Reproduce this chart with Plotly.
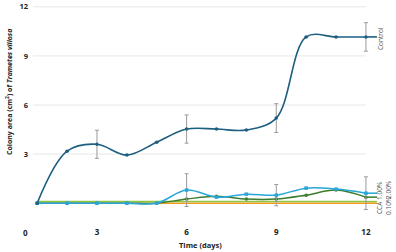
import plotly.graph_objects as go

days = [1, 2, 3, 4, 5, 6, 7, 8, 9, 10, 11, 12]
control = [0.0, 3.18, 3.6, 2.94, 3.73, 4.53, 4.53, 4.47, 5.2, 10.16, 10.16, 10.16]
control_err = [0, 0, 0.86, 0, 0, 0.86, 0, 0, 0.88, 0, 0, 0.87]
pct200 = [0.0, 0.0, 0.0, 0.0, 0.0, 0.8, 0.37, 0.55, 0.49, 0.92, 0.86, 0.61]
pct200_err = [0, 0, 0, 0, 0, 1.0, 0, 0, 0.65, 0, 0, 1.0]
pct100 = [0.0, 0.0, 0.0, 0.0, 0.0, 0.25, 0.43, 0.25, 0.25, 0.49, 0.8, 0.37]
pct010 = [0.1] * 12
cca = [0.0] * 12
y_ticks = [3, 6, 9, 12]
x_ticks = [3, 6, 9, 12]

C_CONTROL = "#1d5f80"
C_200 = "#27a6d9"
C_100 = "#3a7d2e"
C_010 = "#8cc540"
C_CCA = "#f39a1e"
GREY = "#9a9a9a"

W, H = 396, 252
L, R, T, B = 33, 19, 6, 39
PW, PH = W - L - R, H - T - B

lead = 0.37  # label leader extension


def px(xp):
    return (xp - L) / PW


def py(yp):
    return 1 - (yp - T) / PH


fig = go.Figure()

for val in y_ticks:
    fig.add_shape(type="line", x0=0.86, x1=days[-1], y0=val, y1=val,
                  line=dict(color="#e8e8e8", width=1), layer="below")

for ys, col, w in [(cca, C_CCA, 1.6), (pct010, C_010, 1.4), (pct100, C_100, 1.5),
                   (pct200, C_200, 1.5), (control, C_CONTROL, 1.6)]:
    fig.add_trace(go.Scatter(x=[days[-1], days[-1] + lead], y=[ys[-1], ys[-1]],
                             mode="lines", line=dict(color=col, width=w),
                             showlegend=False, hoverinfo="skip"))

fig.add_trace(go.Scatter(x=days, y=cca, mode="lines",
                         line=dict(color=C_CCA, width=1.6), showlegend=False))
fig.add_trace(go.Scatter(x=days, y=pct010, mode="lines",
                         line=dict(color=C_010, width=1.4), showlegend=False))
fig.add_trace(go.Scatter(x=days, y=pct100, mode="lines+markers",
                         line=dict(color=C_100, width=1.5, shape="spline", smoothing=1),
                         marker=dict(size=3.5, color=C_100), showlegend=False))
fig.add_trace(go.Scatter(x=days, y=pct200, mode="lines+markers",
                         line=dict(color=C_200, width=1.5, shape="spline", smoothing=1),
                         marker=dict(size=3.5, color=C_200, symbol="square"),
                         error_y=dict(type="data", array=pct200_err, color=GREY,
                                      thickness=1, width=2),
                         showlegend=False))
fig.add_trace(go.Scatter(x=days, y=control, mode="lines+markers",
                         line=dict(color=C_CONTROL, width=1.6, shape="spline", smoothing=1),
                         marker=dict(size=3.5, color=C_CONTROL),
                         error_y=dict(type="data", array=control_err, color=GREY,
                                      thickness=1, width=2),
                         showlegend=False))

ann = [
    dict(text="Control", x=380, y=39, size=6.5),
    dict(text="CCA", x=379, y=208, size=6.5),
    dict(text="1.00%", x=379, y=191, size=6.5),
    dict(text="0.10%", x=388, y=206, size=6.5),
    dict(text="2.00%", x=388, y=190, size=6.5),
]
for a in ann:
    fig.add_annotation(text=a["text"], x=px(a["x"]), y=py(a["y"]),
                       xref="paper", yref="paper", showarrow=False,
                       textangle=-90, xanchor="center", yanchor="middle",
                       font=dict(size=a["size"], color="#555", family="Open Sans"))

fig.update_layout(
    width=W, height=H,
    margin=dict(l=L, r=R, t=T, b=B, autoexpand=False),
    paper_bgcolor="white", plot_bgcolor="white",
    font=dict(family="Open Sans", color="#222"),
    xaxis=dict(range=[0.86, 12.37], tickvals=x_ticks,
               ticktext=["<b>%d</b>" % v for v in x_ticks],
               showgrid=False, zeroline=False, showline=False,
               tickfont=dict(size=8, color="#222", family="Open Sans"),
               ticks="", ticklabelstandoff=13),
    yaxis=dict(range=[-0.6, 12.05], tickvals=y_ticks,
               ticktext=["<b>%d</b>" % v for v in y_ticks],
               showgrid=False, zeroline=False, showline=False,
               tickfont=dict(size=7.5, color="#222", family="Open Sans"),
               ticks="", ticklabelstandoff=4),
)

fig.add_annotation(text="<b>0</b>", x=px(25), y=py(232), xref="paper", yref="paper",
                   showarrow=False, xanchor="center", yanchor="middle",
                   font=dict(size=8, color="#222", family="Open Sans"))
fig.add_annotation(text="<b>Time (days)</b>", x=px(200), y=py(245), xref="paper", yref="paper",
                   showarrow=False, xanchor="center", yanchor="middle",
                   font=dict(size=7.5, color="#222", family="Open Sans"))
fig.add_annotation(text="<b>Colony area (cm<sup>2</sup>) of <i>Trametes villosa</i></b>",
                   x=px(9), y=py(92), xref="paper", yref="paper",
                   showarrow=False, textangle=-90, xanchor="center", yanchor="middle",
                   font=dict(size=7, color="#222", family="Open Sans"))

fig.write_html("out.html", config={"displayModeBar": False},
               post_script="document.body.style.margin='0';")
